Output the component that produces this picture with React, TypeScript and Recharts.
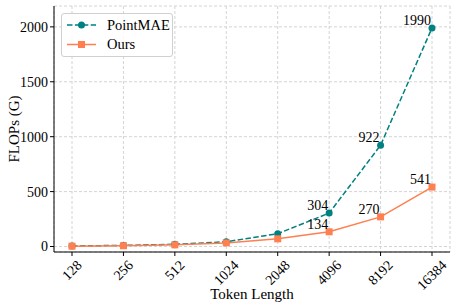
import { CartesianGrid, LabelList, Legend, Line, LineChart, XAxis, YAxis } from "recharts";

const tokenLengths = ["128", "256", "512", "1024", "2048", "4096", "8192", "16384"];
const pointMaeFlops = [5, 10, 20, 43, 117, 304, 922, 1990];
const oursFlops = [3, 7, 15, 33, 70, 134, 270, 541];
const yTicks = [0, 500, 1000, 1500, 2000];
const labeledFrom = 5;

const FONT = "'Liberation Serif', 'Times New Roman', serif";
const TEAL = "#008080";
const CORAL = "#FF7F50";

const rows = tokenLengths.map((t, i) => ({
  idx: i,
  token: t,
  pointmae: pointMaeFlops[i],
  ours: oursFlops[i]
}));

function RotatedTick(props: any) {
  const { x, y, payload } = props;
  const label = tokenLengths[payload.value] ?? "";
  const len = label.length * 7;
  const cy = y + 1 + ((len + 11) * 0.707) / 2;
  return (
    <text
      x={x}
      y={cy}
      transform={`rotate(-45, ${x}, ${cy})`}
      textAnchor="middle"
      dominantBaseline="central"
      fontFamily={FONT}
      fontSize={14}
      fill="#000"
    >
      {label}
    </text>
  );
}

function pointLabel(props: any) {
  const { x, y, value, index } = props;
  if (index < labeledFrom) return null;
  return (
    <text x={x - 1} y={y - 3} textAnchor="end" fontFamily={FONT} fontSize={14} fill="#000">
      {value}
    </text>
  );
}

function YLabel(props: any) {
  const { viewBox } = props;
  const cy = viewBox.y + viewBox.height / 2;
  return (
    <text x={14} y={cy} transform={`rotate(-90, 14, ${cy})`} textAnchor="middle" dominantBaseline="central" fontFamily={FONT} fontSize={15} fill="#000">
      FLOPs (G)
    </text>
  );
}

function LegendBox() {
  return (
    <div
      style={{
        width: 110,
        height: 42,
        border: "1px solid #d0d0d0",
        borderRadius: 3,
        background: "rgba(255,255,255,0.85)",
        fontFamily: FONT,
        fontSize: 14.5,
        position: "relative"
      }}
    >
      <svg width={40} height={42} style={{ position: "absolute", left: 0, top: 0 }}>
        <line x1={5} y1={11} x2={34} y2={11} stroke={TEAL} strokeWidth={1.5} strokeDasharray="5.5 2.4" />
        <circle cx={19.5} cy={11} r={3.5} fill={TEAL} />
        <line x1={5} y1={30.5} x2={34} y2={30.5} stroke={CORAL} strokeWidth={1.5} />
        <rect x={16} y={27} width={7} height={7} fill={CORAL} />
      </svg>
      <div style={{ position: "absolute", left: 45, top: 2, lineHeight: "18px" }}>PointMAE</div>
      <div style={{ position: "absolute", left: 45, top: 21, lineHeight: "18px" }}>Ours</div>
    </div>
  );
}

export default function App() {
  return (
    <div style={{ position: "fixed", left: 0, top: 0, width: 457, height: 307, background: "#fff" }}>
      <LineChart width={457} height={307} data={rows} margin={{ top: 6, right: 7, bottom: 0, left: 0 }}>
        <CartesianGrid stroke="#d4d4d4" strokeDasharray="3 2" />
        <XAxis
          dataKey="idx"
          type="number"
          domain={[-0.35, 7.35]}
          ticks={[0, 1, 2, 3, 4, 5, 6, 7]}
          height={55}
          tick={<RotatedTick />}
          tickSize={4}
          stroke="#000"
          interval={0}
          label={{ value: "Token Length", position: "insideBottom", offset: 8, fontFamily: FONT, fontSize: 15, fill: "#000" }}
        />
        <XAxis xAxisId="top" dataKey="idx" type="number" domain={[-0.35, 7.35]} orientation="top" height={0} tick={false} tickLine={false} stroke="#000" />
        <YAxis
          type="number"
          domain={[-50, 2190]}
          ticks={yTicks}
          width={54}
          tickSize={4}
          stroke="#000"
          tick={{ fontFamily: FONT, fontSize: 14, fill: "#000" }}
          label={<YLabel />}
        />
        <YAxis yAxisId="right" orientation="right" width={0} domain={[-50, 2190]} tick={false} tickLine={false} stroke="#000" />
        <Legend
          layout="vertical"
          align="center"
          verticalAlign="middle"
          content={<LegendBox />}
          wrapperStyle={{ position: "absolute", left: 61, top: 13, width: 112, height: 44 }}
        />
        <Line
          dataKey="pointmae"
          name="PointMAE"
          stroke={TEAL}
          strokeWidth={1.5}
          strokeDasharray="5.5 2.4"
          dot={{ r: 3.5, fill: TEAL, stroke: TEAL, strokeWidth: 0 }}
          isAnimationActive={false}
        >
          <LabelList dataKey="pointmae" content={pointLabel} />
        </Line>
        <Line
          dataKey="ours"
          name="Ours"
          stroke={CORAL}
          strokeWidth={1.5}
          dot={(p: any) => <rect key={p.index} x={p.cx - 3.5} y={p.cy - 3.5} width={7} height={7} fill={CORAL} />}
          isAnimationActive={false}
        >
          <LabelList dataKey="ours" content={pointLabel} />
        </Line>
      </LineChart>
    </div>
  );
}
